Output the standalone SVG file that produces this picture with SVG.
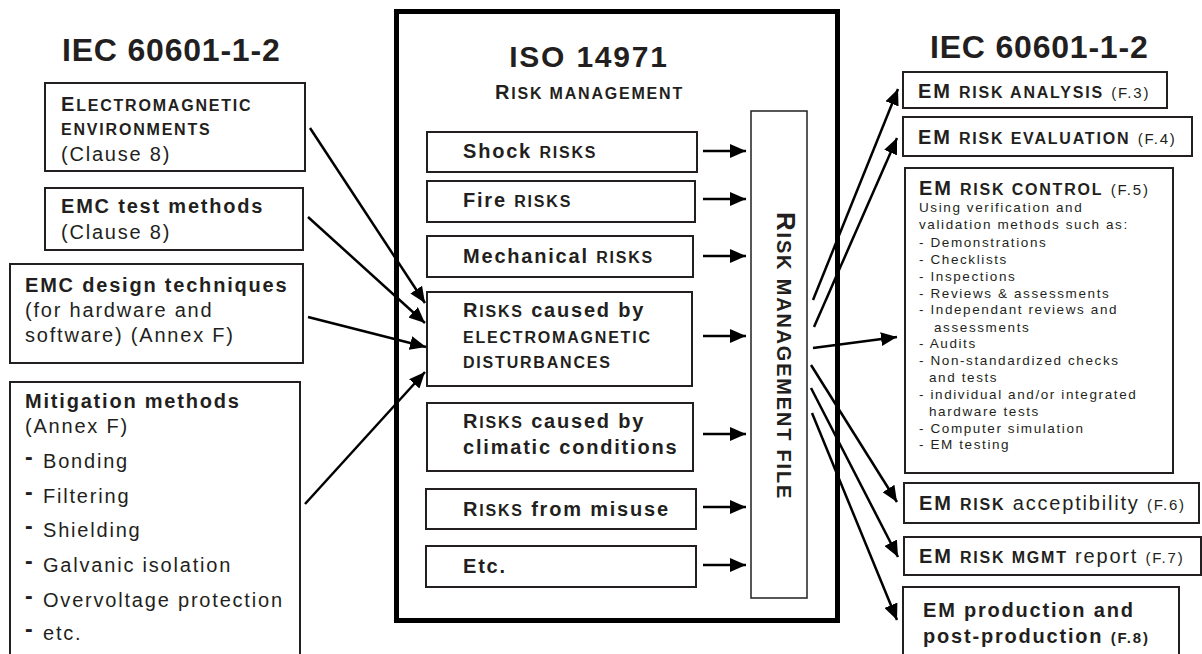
<svg xmlns="http://www.w3.org/2000/svg" width="1202" height="654" viewBox="0 0 1202 654">
<style>
text{font-family:"Liberation Sans",Arial,Helvetica,sans-serif;fill:#231f20;letter-spacing:1.8px;font-size:20px}
.b{font-weight:bold}
.sc{font-weight:bold;font-size:16px}
.sm{font-size:15px;font-weight:normal}
.smb{font-size:15px;font-weight:bold}
.h1{font-weight:bold;font-size:32px;letter-spacing:0.8px}
.h2{font-weight:bold;font-size:30px}
.li{font-size:13.5px;letter-spacing:1.6px}
.dash{font-weight:bold;font-size:23px}
.box{fill:#fff;stroke:#231f20;stroke-width:2}
.con{stroke:#000;stroke-width:2.5;fill:none}
</style>
<defs>
<marker id="ah" markerUnits="userSpaceOnUse" markerWidth="16" markerHeight="14" refX="16" refY="7" orient="auto" viewBox="0 0 16 14">
<path d="M0,0 L16,7 L0,14 z" fill="#000"/>
</marker>
</defs>

<g id="title-left"><text class="h1" x="62" y="61">IEC 60601-1-2</text></g>
<g id="title-right"><text class="h1" x="930" y="58">IEC 60601-1-2</text></g>

<g id="left-em-env">
<rect class="box" x="45" y="83" width="260" height="88"/>
<text x="61" y="111" class="b">E<tspan class="sc">LECTROMAGNETIC</tspan></text>
<text x="61" y="135" class="sc">ENVIRONMENTS</text>
<text x="61" y="161">(Clause 8)</text>
</g>
<g id="left-emc-test">
<rect class="box" x="45" y="188" width="258" height="62"/>
<text x="61" y="213" class="b">EMC test methods</text>
<text x="61" y="239">(Clause 8)</text>
</g>
<g id="left-emc-design">
<rect class="box" x="10" y="264" width="293" height="99"/>
<text x="25" y="292" class="b">EMC design techniques</text>
<text x="25" y="317">(for hardware and</text>
<text x="25" y="342">software) (Annex F)</text>
</g>
<g id="left-mitigation">
<rect class="box" x="10" y="382" width="290" height="290"/>
<text x="25" y="408" class="b">Mitigation methods</text>
<text x="25" y="433">(Annex F)</text>
<text x="25" y="465" class="dash">-</text><text x="43" y="468">Bonding</text>
<text x="25" y="500" class="dash">-</text><text x="43" y="503">Filtering</text>
<text x="25" y="534" class="dash">-</text><text x="43" y="537">Shielding</text>
<text x="25" y="569" class="dash">-</text><text x="43" y="572">Galvanic isolation</text>
<text x="25" y="604" class="dash">-</text><text x="43" y="607">Overvoltage protection</text>
<text x="25" y="637" class="dash">-</text><text x="43" y="640">etc.</text>
</g>

<g id="iso14971">
<rect x="396.5" y="11.5" width="441" height="609" fill="#fff" stroke="#000" stroke-width="5"/>
<text class="h2" x="589" y="67" text-anchor="middle">ISO 14971</text>
<text x="495" y="99" class="b">R<tspan class="sc">ISK MANAGEMENT</tspan></text>
</g>

<g id="shock"><rect class="box" x="427" y="132" width="270" height="40"/>
<text x="463" y="158" class="b">Shock <tspan class="sc">RISKS</tspan></text></g>
<g id="fire"><rect class="box" x="427" y="181" width="268" height="41"/>
<text x="463" y="207" class="b">Fire <tspan class="sc">RISKS</tspan></text></g>
<g id="mechanical"><rect class="box" x="427" y="236" width="266" height="41"/>
<text x="463" y="263" class="b">Mechanical <tspan class="sc">RISKS</tspan></text></g>
<g id="em-dist"><rect class="box" x="427" y="292" width="265" height="94"/>
<text x="463" y="317" class="b">R<tspan class="sc">ISKS</tspan> caused by</text>
<text x="463" y="343" class="sc">ELECTROMAGNETIC</text>
<text x="463" y="368" class="sc">DISTURBANCES</text></g>
<g id="climatic"><rect class="box" x="427" y="403" width="266" height="68"/>
<text x="463" y="428" class="b">R<tspan class="sc">ISKS</tspan> caused by</text>
<text x="463" y="454" class="b">climatic conditions</text></g>
<g id="misuse"><rect class="box" x="426" y="489" width="270" height="40"/>
<text x="463" y="516" class="b">R<tspan class="sc">ISKS</tspan> from misuse</text></g>
<g id="etc"><rect class="box" x="426" y="546" width="270" height="41"/>
<text x="463" y="573" class="b">Etc.</text></g>

<g id="risk-management-file">
<rect x="751" y="111" width="56" height="487" fill="#fff" stroke="#231f20" stroke-width="1.5"/>
<text transform="translate(777,212) rotate(90)" class="b" style="font-size:20px;letter-spacing:1.8px"><tspan style="font-size:26px">R</tspan>ISK MANAGEMENT FILE</text>
</g>

<g id="f3"><rect class="box" x="903" y="72" width="264" height="36"/>
<text x="918" y="98" class="b">EM <tspan class="sc">RISK ANALYSIS</tspan> <tspan class="sm">(F.3)</tspan></text></g>
<g id="f4"><rect class="box" x="903" y="117" width="289" height="39"/>
<text x="918" y="144" class="b">EM <tspan class="sc">RISK EVALUATION</tspan> <tspan class="sm">(F.4)</tspan></text></g>
<g id="f5"><rect class="box" x="905" y="168" width="268" height="305"/>
<text x="919" y="195" class="b">EM <tspan class="sc">RISK CONTROL</tspan> <tspan class="sm">(F.5)</tspan></text>
<text class="li" x="919" y="212">Using verification and</text>
<text class="li" x="919" y="229">validation methods such as:</text>
<text class="li" x="919" y="247">- Demonstrations</text>
<text class="li" x="919" y="264">- Checklists</text>
<text class="li" x="919" y="281">- Inspections</text>
<text class="li" x="919" y="298">- Reviews &amp; assessments</text>
<text class="li" x="919" y="314">- Independant reviews and</text>
<text class="li" x="934" y="332">assessments</text>
<text class="li" x="919" y="348">- Audits</text>
<text class="li" x="919" y="365">- Non-standardized checks</text>
<text class="li" x="929" y="382">and tests</text>
<text class="li" x="919" y="399">- individual and/or integrated</text>
<text class="li" x="929" y="416">hardware tests</text>
<text class="li" x="919" y="433">- Computer simulation</text>
<text class="li" x="919" y="449">- EM testing</text></g>
<g id="f6"><rect class="box" x="904" y="483" width="295" height="40"/>
<text x="919" y="510"><tspan class="b">EM</tspan> <tspan class="sc">RISK</tspan> acceptibility <tspan class="sm">(F.6)</tspan></text></g>
<g id="f7"><rect class="box" x="904" y="537" width="297" height="38"/>
<text x="919" y="563"><tspan class="b">EM</tspan> <tspan class="sc">RISK MGMT</tspan> report <tspan class="sm">(F.7)</tspan></text></g>
<g id="f8"><rect class="box" x="903" y="587" width="276" height="90"/>
<text x="923" y="617" class="b">EM production and</text>
<text x="923" y="643" class="b">post-production <tspan class="smb">(F.8)</tspan></text></g>

<g id="connectors" class="con">
<line class="con" x1="310" y1="128" x2="425" y2="303" marker-end="url(#ah)"/>
<line class="con" x1="308" y1="217" x2="425" y2="323" marker-end="url(#ah)"/>
<line class="con" x1="308" y1="317" x2="426" y2="347" marker-end="url(#ah)"/>
<line class="con" x1="305" y1="504" x2="425" y2="372" marker-end="url(#ah)"/>
<line class="con" x1="703" y1="151" x2="746" y2="151" marker-end="url(#ah)"/>
<line class="con" x1="703" y1="199" x2="746" y2="199" marker-end="url(#ah)"/>
<line class="con" x1="703" y1="256" x2="746" y2="256" marker-end="url(#ah)"/>
<line class="con" x1="703" y1="336" x2="746" y2="336" marker-end="url(#ah)"/>
<line class="con" x1="703" y1="434" x2="746" y2="434" marker-end="url(#ah)"/>
<line class="con" x1="703" y1="507" x2="746" y2="507" marker-end="url(#ah)"/>
<line class="con" x1="703" y1="565" x2="746" y2="565" marker-end="url(#ah)"/>
<line class="con" x1="813" y1="300" x2="898" y2="89" marker-end="url(#ah)"/>
<line class="con" x1="814" y1="327" x2="897" y2="138" marker-end="url(#ah)"/>
<line class="con" x1="813" y1="348" x2="897" y2="337" marker-end="url(#ah)"/>
<line class="con" x1="811" y1="365" x2="897" y2="502" marker-end="url(#ah)"/>
<line class="con" x1="811" y1="388" x2="898" y2="557" marker-end="url(#ah)"/>
<line class="con" x1="812" y1="413" x2="897" y2="620" marker-end="url(#ah)"/>
</g>
</svg>
